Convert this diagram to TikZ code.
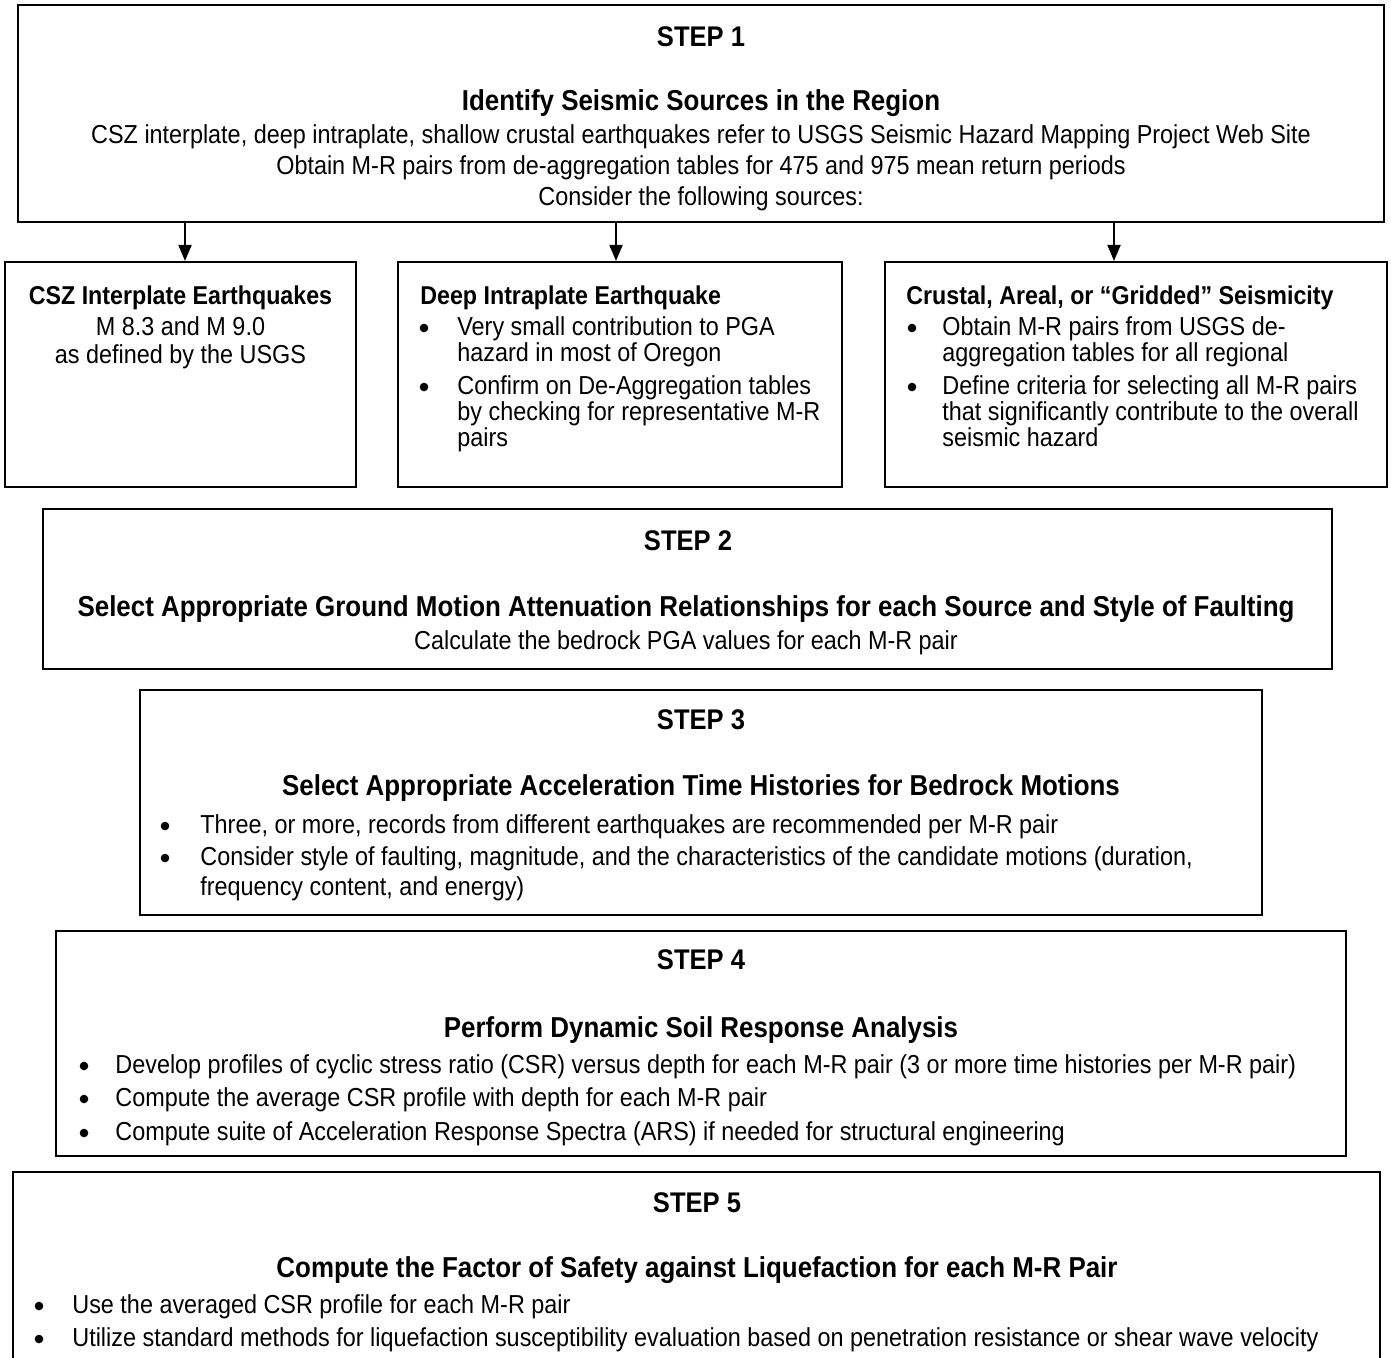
\documentclass[tikz,border=0pt]{standalone}
\usepackage{fontspec}
\setmainfont{Liberation Sans}[FakeStretch=0.9]
\usetikzlibrary{fit,arrows.meta}
\tikzset{
  x=0.5pt, y=-0.5pt,
  box/.style={draw, line width=1.1pt, inner sep=0pt, fill=none},
  ln/.style={inner sep=0pt, anchor=base, font=\fontsize{13}{15}\selectfont},
  lnl/.style={ln, anchor=base west},
  stp/.style={inner sep=0pt, anchor=base, font=\fontsize{14.2}{16}\selectfont\bfseries},
  hd/.style={inner sep=0pt, anchor=base, font=\fontsize{14.4}{16}\selectfont\bfseries},
  sh/.style={inner sep=0pt, anchor=base, font=\fontsize{12.9}{15}\selectfont\bfseries},
  shl/.style={sh, anchor=base west},
  bul/.style={circle, fill, inner sep=0pt, minimum size=4.3pt},
  arr/.style={line width=1pt, -{Triangle[width=6.5pt,length=8pt]}}
}
\begin{document}
\begin{tikzpicture}
\useasboundingbox (0,0) rectangle (1391,1357);
% ---------- STEP 1
\node[box, fit={(18,5) (1384,222)}] (s1) {};
\node[stp] (s1t) at (701,46) {STEP 1};
\node[hd] (s1h) at (701,110) {Identify Seismic Sources in the Region};
\node[ln] (s1a) at (701,143) {CSZ interplate, deep intraplate, shallow crustal earthquakes refer to USGS Seismic Hazard Mapping Project Web Site};
\node[ln] (s1b) at (701,174) {Obtain M-R pairs from de-aggregation tables for 475 and 975 mean return periods};
\node[ln] (s1c) at (701,205) {Consider the following sources:};
% ---------- three source boxes
\node[box, fit={(5,262) (356,487)}] (ba) {};
\node[box, fit={(398,262) (842,487)}] (bb) {};
\node[box, fit={(885,262) (1387,487)}] (bc) {};
\coordinate (xa) at (185,0);
\coordinate (xb) at (616,0);
\coordinate (xc) at (1114,0);
\draw[arr] (xa |- s1.south) -- (xa |- ba.north);
\draw[arr] (xb |- s1.south) -- (xb |- bb.north);
\draw[arr] (xc |- s1.south) -- (xc |- bc.north);
% box A
\node[sh] (bah) at (180.5,304) {CSZ Interplate Earthquakes};
\node[ln] (ba1) at (180.5,335) {M 8.3 and M 9.0};
\node[ln] (ba2) at (180.5,363) {as defined by the USGS};
% box B
\node[shl] (bbh) at (420,304) {Deep Intraplate Earthquake};
\node[bul] (bbb1) at (424,328) {};
\node[lnl] (bb1) at (457,335) {Very small contribution to PGA};
\node[lnl] (bb2) at (457,361) {hazard in most of Oregon};
\node[bul] (bbb2) at (424,387) {};
\node[lnl] (bb3) at (457,394) {Confirm on De-Aggregation tables};
\node[lnl] (bb4) at (457,420) {by checking for representative M-R};
\node[lnl] (bb5) at (457,446) {pairs};
% box C
\node[shl] (bch) at (906,304) {Crustal, Areal, or “Gridded” Seismicity};
\node[bul] (bcb1) at (912,328) {};
\node[lnl] (bc1) at (942,335) {Obtain M-R pairs from USGS de-};
\node[lnl] (bc2) at (942,361) {aggregation tables for all regional};
\node[bul] (bcb2) at (912,387) {};
\node[lnl] (bc3) at (942,394) {Define criteria for selecting all M-R pairs};
\node[lnl] (bc4) at (942,420) {that significantly contribute to the overall};
\node[lnl] (bc5) at (942,446) {seismic hazard};
% ---------- STEP 2
\node[box, fit={(43,509) (1332,669)}] (s2) {};
\node[stp] (s2t) at (688,550) {STEP 2};
\node[hd] (s2h) at (686,616) {Select Appropriate Ground Motion Attenuation Relationships for each Source and Style of Faulting};
\node[ln] (s2a) at (686,649) {Calculate the bedrock PGA values for each M-R pair};
% ---------- STEP 3
\node[box, fit={(140,690) (1262,915)}] (s3) {};
\node[stp] (s3t) at (701,729) {STEP 3};
\node[hd] (s3h) at (701,795) {Select Appropriate Acceleration Time Histories for Bedrock Motions};
\node[bul] (s3b1) at (165,826) {};
\node[lnl] (s31) at (200,833) {Three, or more, records from different earthquakes are recommended per M-R pair};
\node[bul] (s3b2) at (165,858) {};
\node[lnl] (s32) at (200,865) {Consider style of faulting, magnitude, and the characteristics of the candidate motions (duration,};
\node[lnl] (s33) at (200,895) {frequency content, and energy)};
% ---------- STEP 4
\node[box, fit={(56,931) (1346,1156)}] (s4) {};
\node[stp] (s4t) at (701,969) {STEP 4};
\node[hd] (s4h) at (701,1037) {Perform Dynamic Soil Response Analysis};
\node[bul] (s4b1) at (84,1066) {};
\node[lnl] (s41) at (115,1073) {Develop profiles of cyclic stress ratio (CSR) versus depth for each M-R pair (3 or more time histories per M-R pair)};
\node[bul] (s4b2) at (84,1099) {};
\node[lnl] (s42) at (115,1106) {Compute the average CSR profile with depth for each M-R pair};
\node[bul] (s4b3) at (84,1133) {};
\node[lnl] (s43) at (115,1140) {Compute suite of Acceleration Response Spectra (ARS) if needed for structural engineering};
% ---------- STEP 5
\node[box, fit={(13,1172) (1380,1372)}] (s5) {};
\node[stp] (s5t) at (697,1212) {STEP 5};
\node[hd] (s5h) at (697,1277) {Compute the Factor of Safety against Liquefaction for each M-R Pair};
\node[bul] (s5b1) at (39,1306) {};
\node[lnl] (s51) at (72,1313) {Use the averaged CSR profile for each M-R pair};
\node[bul] (s5b2) at (39,1339) {};
\node[lnl] (s52) at (72,1346) {Utilize standard methods for liquefaction susceptibility evaluation based on penetration resistance or shear wave velocity};
\end{tikzpicture}
\end{document}
